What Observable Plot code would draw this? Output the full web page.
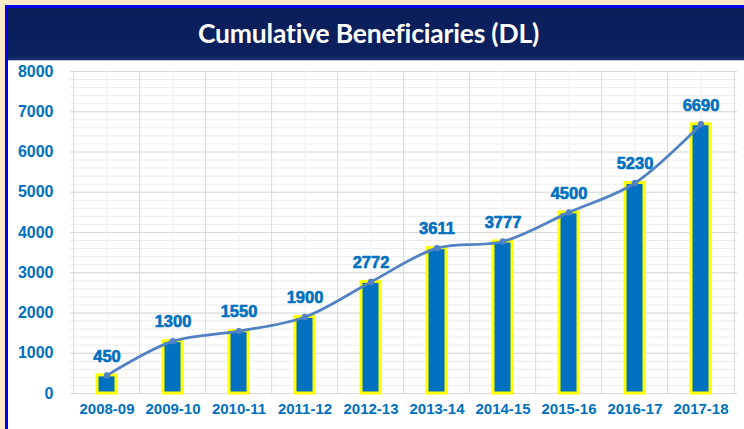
<!DOCTYPE html>
<html>
<head>
<meta charset="utf-8">
<script src="https://cdn.jsdelivr.net/npm/d3@7"></script>
<script src="https://cdn.jsdelivr.net/npm/@observablehq/plot@0.6"></script>
<style>
  html, body { margin: 0; padding: 0; }
  body { width: 744px; height: 429px; background: #fde8c8; overflow: hidden; position: relative; }
  #frame { position: absolute; left: 5px; top: 5px; width: 739px; height: 424px;
           border-left: 3px solid #0000f0; border-top: 3px solid #0000f0; background: #ffffff; }
  #title { height: 52px; background: linear-gradient(#0b1f5a, #0b2060 90%, #1c3270);
           border-bottom: 1px solid #b8c2d6; color: #ffffff; font-family: Lato, "Open Sans", sans-serif;
           font-weight: 700; font-size: 26.5px; text-align: center; line-height: 50px; letter-spacing: -0.2px;
           padding-right: 18px; }
  #chart svg { display: block; }
</style>
</head>
<body>
<div id="frame">
  <div id="title">Cumulative Beneficiaries (DL)</div>
  <div id="chart"></div>
</div>
<script>
const years = ["2008-09","2009-10","2010-11","2011-12","2012-13","2013-14","2014-15","2015-16","2016-17","2017-18"];
const beneficiaries = [450, 1300, 1550, 1900, 2772, 3611, 3777, 4500, 5230, 6690];
const yTicks = [0, 1000, 2000, 3000, 4000, 5000, 6000, 7000, 8000];
const yMinorTicks = d3.range(0, 8001, 200);

const data = years.map((y, i) => ({year: y, value: beneficiaries[i]}));

const W = 736, H = 368, ML = 62, MR = 7;
const step = (W - ML - MR) / years.length;
const blue = "#0070c0";

const chart = Plot.plot({
  width: W,
  height: H,
  marginLeft: ML,
  marginRight: MR,
  marginTop: 10,
  marginBottom: 36,
  style: {fontFamily: "'Liberation Sans', Arial, sans-serif", background: "#ffffff", overflow: "visible"},
  x: {type: "band", domain: years, paddingInner: 0.715, paddingOuter: 0.3575, label: null},
  y: {domain: [0, 8000], label: null},
  marks: [
    Plot.ruleY(yMinorTicks, {stroke: "#ececec", strokeWidth: 1}),
    Plot.ruleY(yTicks, {stroke: "#d9d9d9", strokeWidth: 1}),
    Plot.ruleX(years, {x: d => d, stroke: "#efefef", strokeWidth: 1}),
    Plot.ruleX(years, {x: d => d, dx: -step / 2, stroke: "#d9d9d9", strokeWidth: 1}),
    Plot.ruleX([years[years.length - 1]], {x: d => d, dx: step / 2, stroke: "#d9d9d9", strokeWidth: 1}),
    Plot.barY(data, {x: "year", y: "value", fill: blue, stroke: "#ffff00", strokeWidth: 3}),
    Plot.line(data, {x: "year", y: "value", stroke: "#5282c4", strokeWidth: 2.75, curve: "catmull-rom"}),
    Plot.dot(data, {x: "year", y: "value", r: 3.2, fill: "#5282c4"}),
    Plot.text(data, {x: "year", y: "value", text: d => String(d.value), dy: -19,
      fill: blue, stroke: blue, strokeWidth: 0.6, fontWeight: "bold", fontSize: 16.5}),
    Plot.axisY({ticks: yTicks, tickSize: 0, tickPadding: 17, tickFormat: d => String(d),
      fill: blue, stroke: blue, strokeWidth: 0.6, fontWeight: "bold", fontSize: 16}),
    Plot.axisX({tickSize: 0, tickPadding: 10, fill: blue, stroke: blue, strokeWidth: 0.5,
      fontWeight: "bold", fontSize: 15})
  ]
});
document.getElementById("chart").appendChild(chart);
</script>
</body>
</html>
